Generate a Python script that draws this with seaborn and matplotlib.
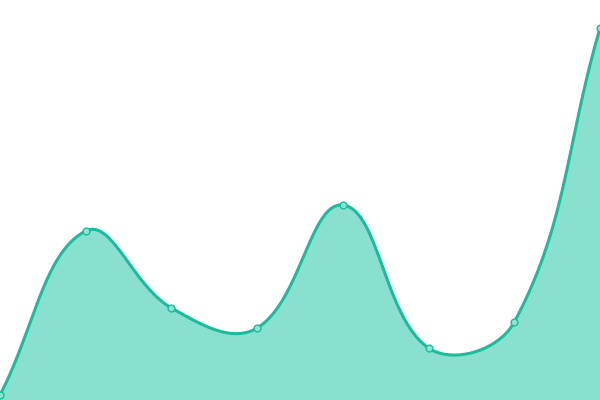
import numpy as np
import matplotlib
matplotlib.use("Agg")
import matplotlib.pyplot as plt
import seaborn as sns
import pandas as pd

# data
categories = ["A", "B", "C", "D", "E", "F", "G", "H"]
values = [5, 169, 92, 72, 195, 52, 78, 372]

LINE = "#1abc9c"
FILL = "#89e0cf"
MARK = "#8fe3d2"

sns.set_theme(style="white")
fig = plt.figure(figsize=(6, 4), dpi=100)
ax = fig.add_axes([0, 0, 1, 1])
df = pd.DataFrame({"x": np.arange(len(categories)), "y": values})

ax.set_xlim(0, len(categories) - 1)
ax.set_ylim(0, 400)
ax.set_axis_off()

# smooth bezier path (echarts-like smoothing) computed in display space
pts = ax.transData.transform(np.column_stack([df["x"], df["y"]]))
smooth = 0.4
n = len(pts)
cps = []
for i in range(n):
    p = pts[i]
    prev = pts[i - 1] if i > 0 else p
    nxt = pts[i + 1] if i < n - 1 else p
    v = nxt - prev
    l0 = np.hypot(*(p - prev))
    l1 = np.hypot(*(nxt - p))
    s = l0 + l1
    r = l1 / s if s else 0
    cin = p - v * smooth * (1 - r)
    cout = p + v * smooth * r
    cps.append((cin, cout))

curve = []
t = np.linspace(0, 1, 40)[:, None]
for i in range(n - 1):
    p0 = pts[i]; p3 = pts[i + 1]
    c1 = cps[i][1]; c2 = cps[i + 1][0]
    seg = ((1 - t) ** 3) * p0 + 3 * ((1 - t) ** 2) * t * c1 + 3 * (1 - t) * t ** 2 * c2 + t ** 3 * p3
    curve.append(seg if i == 0 else seg[1:])
curve = np.vstack(curve)
cd = ax.transData.inverted().transform(curve)

ax.fill_between(cd[:, 0], cd[:, 1], 0, color=FILL, linewidth=0, zorder=1)
ax.plot(cd[:, 0], cd[:, 1], color=LINE, linewidth=2.2, solid_capstyle="round", zorder=2)
sns.scatterplot(data=df, x="x", y="y", ax=ax, s=24, color=MARK, edgecolor=LINE,
                linewidth=1.0, zorder=3, clip_on=False, legend=False)
ax.set_axis_off()
ax.set_xlim(0, len(categories) - 1)
ax.set_ylim(0, 400)

fig.savefig("out.png", dpi=100)
